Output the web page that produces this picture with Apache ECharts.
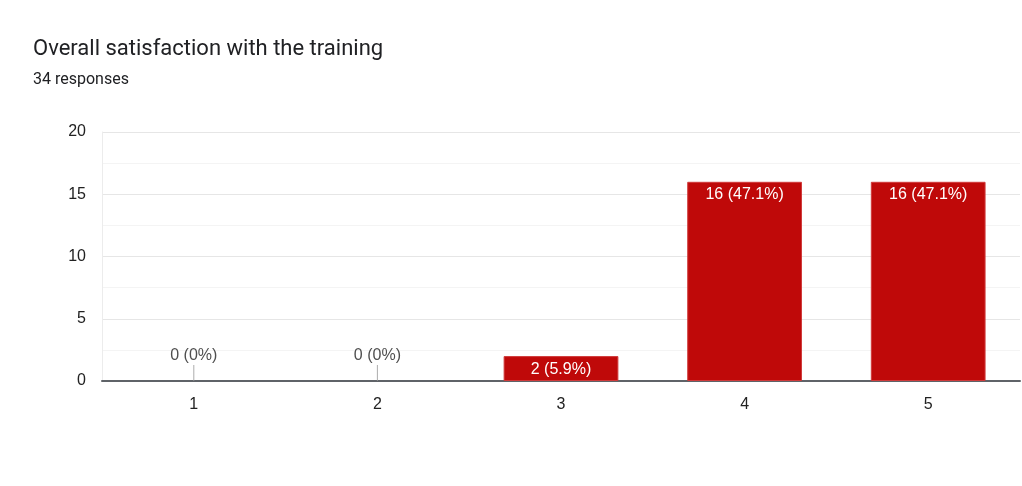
<!DOCTYPE html>
<html>
<head>
<meta charset="utf-8">
<script src="https://cdn.jsdelivr.net/npm/echarts@6/dist/echarts.min.js"></script>
<style>
  html, body { margin: 0; padding: 0; background: #fff; }
  #chart { width: 1022px; height: 486px; }
</style>
</head>
<body>
<div id="chart"></div>
<script>
const titleText = 'Overall satisfaction with the training'
const subtitleText = '34 responses'
const categories = ['1', '2', '3', '4', '5']
const counts = [0, 0, 2, 16, 16]
const yTicks = [0, 5, 10, 15, 20]

const total = counts.reduce((a, b) => a + b, 0)
function pctLabel(v) {
  const p = Math.round((v / total) * 1000) / 10
  return v + ' (' + p + '%)'
}

const font = 'Liberation Sans, Arial, sans-serif'
const chart = echarts.init(document.getElementById('chart'))
const option = {
  animation: false,
  textStyle: { fontFamily: font },
  title: {
    text: titleText,
    subtext: subtitleText,
    left: 28,
    top: 33,
    itemGap: 12,
    textStyle: { fontSize: 22, fontWeight: 'normal', color: '#202124', fontFamily: 'Roboto' },
    subtextStyle: { fontSize: 16, color: '#202124', fontFamily: 'Roboto' },
  },
  grid: { left: 102, right: 2, top: 132, bottom: 105 },
  xAxis: {
    type: 'category',
    data: categories,
    axisLine: { lineStyle: { color: '#5f6368', width: 2 } },
    axisTick: { show: false },
    axisLabel: { color: '#222', fontSize: 16, margin: 16, fontFamily: font },
  },
  yAxis: {
    type: 'value',
    min: yTicks[0],
    max: yTicks[yTicks.length - 1],
    interval: 5,
    axisLine: { show: true, lineStyle: { color: '#ececec' } },
    axisLabel: { color: '#222', fontSize: 16, margin: 16, fontFamily: font },
    splitLine: { lineStyle: { color: '#e6e6e6' } },
    minorTick: { show: false, splitNumber: 2 },
    minorSplitLine: { show: true, lineStyle: { color: '#f4f4f4' } },
  },
  series: [
    {
      type: 'bar',
      data: counts.map((v) => ({
        value: v,
        itemStyle: { borderWidth: v > 0 ? 1 : 0 },
      })),
      barWidth: '62.5%',
      itemStyle: { color: '#bf0909', borderColor: '#d03a3a' },
      label: {
        show: true,
        position: 'insideTop',
        distance: 5,
        color: '#fff',
        fontSize: 16,
        fontFamily: font,
        formatter: (p) => (p.value > 0 ? pctLabel(p.value) : ''),
      },
      z: 2,
    },
    {
      type: 'scatter',
      data: counts.map((v, i) => (v === 0 ? [i, 0] : null)).filter((d) => d),
      symbol: 'rect',
      symbolSize: [1, 16],
      symbolOffset: [0, -8],
      itemStyle: { color: '#999' },
      label: {
        show: true,
        position: 'top',
        distance: 1,
        color: '#222',
        fontSize: 16,
        fontFamily: font,
        formatter: (p) => pctLabel(counts[p.value[0]]),
      },
      z: 3,
    },
  ],
}
chart.setOption(option)
window.onresize = () => chart.resize()
</script>
</body>
</html>
